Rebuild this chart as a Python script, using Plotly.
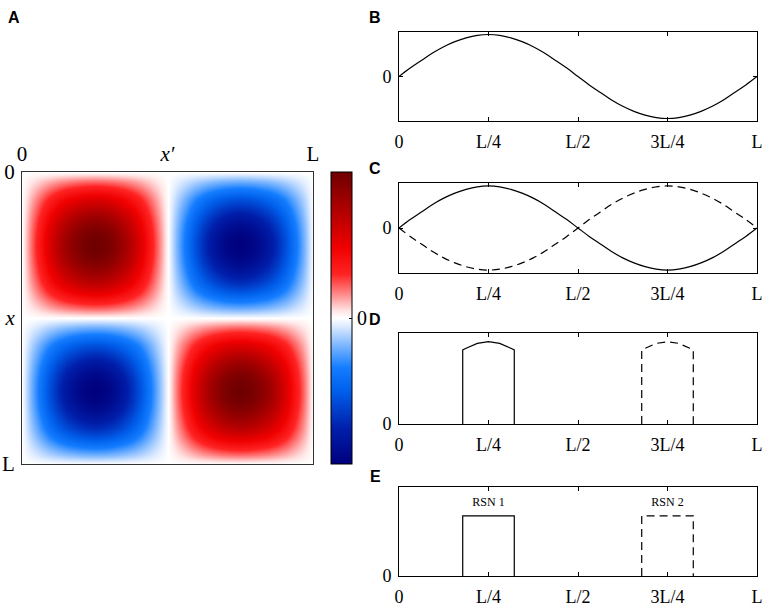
import numpy as np
import plotly.graph_objects as go

W, H = 765, 608

# ---------------- data ----------------
# sample positions along the domain, in units of L
pos = list(np.linspace(0, 1, 33))
# spatial mode 1 (panel B, solid in C)
mode1 = [0.00, 0.20, 0.38, 0.56, 0.71, 0.83, 0.92, 0.98, 1.00, 0.98, 0.92, 0.83,
         0.71, 0.56, 0.38, 0.20, 0.00, -0.20, -0.38, -0.56, -0.71, -0.83, -0.92,
         -0.98, -1.00, -0.98, -0.92, -0.83, -0.71, -0.56, -0.38, -0.20, 0.00]
# spatial mode 2 (dashed in C)
mode2 = [0.00, -0.20, -0.38, -0.56, -0.71, -0.83, -0.92, -0.98, -1.00, -0.98, -0.92,
         -0.83, -0.71, -0.56, -0.38, -0.20, 0.00, 0.20, 0.38, 0.56, 0.71, 0.83, 0.92,
         0.98, 1.00, 0.98, 0.92, 0.83, 0.71, 0.56, 0.38, 0.20, 0.00]

# panel D: thresholded modes
d1_x = [0.178, 0.178, 0.1875, 0.21875, 0.25, 0.28125, 0.3125, 0.322, 0.322]
d1_y = [0.00, 0.90, 0.92, 0.98, 1.00, 0.98, 0.92, 0.90, 0.00]
d2_x = [0.678, 0.678, 0.6875, 0.71875, 0.75, 0.78125, 0.8125, 0.822, 0.822]
d2_y = [0.00, 0.90, 0.92, 0.98, 1.00, 0.98, 0.92, 0.90, 0.00]

# panel E: binary RSNs
e1_x = [0.178, 0.178, 0.322, 0.322]
e1_y = [0, 1, 1, 0]
e2_x = [0.678, 0.678, 0.822, 0.822]
e2_y = [0, 1, 1, 0]
rsn_labels = ["RSN 1", "RSN 2"]
rsn_pos = [0.25, 0.75]

tick_vals = [0, 0.25, 0.5, 0.75, 1]
tick_text = ["0", "L/4", "L/2", "3L/4", "L"]

# covariance matrix (panel A) from mode 1
z = np.outer(mode1, mode1)

# ---------------- figure ----------------
SERIF = "Liberation Serif"
fig = go.Figure()

colorscale = [
    [0.00, "rgb(0,0,125)"],
    [0.12, "rgb(0,30,170)"],
    [0.25, "rgb(0,95,235)"],
    [0.33, "rgb(20,125,255)"],
    [0.41, "rgb(130,185,255)"],
    [0.475, "rgb(225,237,255)"],
    [0.50, "rgb(255,255,255)"],
    [0.525, "rgb(255,228,228)"],
    [0.58, "rgb(255,140,140)"],
    [0.65, "rgb(255,35,35)"],
    [0.74, "rgb(240,0,0)"],
    [0.88, "rgb(170,0,0)"],
    [1.00, "rgb(110,0,0)"],
]

fig.add_trace(go.Heatmap(
    x=pos, y=pos, z=z, zmin=-1, zmax=1, zsmooth="best",
    colorscale=colorscale, xaxis="x", yaxis="y", hoverinfo="skip",
    colorbar=dict(
        x=331 / W, xanchor="left", y=1 - 318 / H, yanchor="middle",
        len=292 / H, lenmode="fraction", thickness=21, thicknessmode="pixels",
        outlinewidth=1, outlinecolor="black", xpad=0, ypad=0,
        tickvals=[0], ticktext=["0"], ticks="inside", ticklen=3,
        tickcolor="black", tickfont=dict(family=SERIF, size=20, color="black"),
    ),
))

line = dict(color="black", width=1.2)
dash = dict(color="black", width=1.2, dash="8px,5px")

# B
fig.add_trace(go.Scatter(x=pos, y=mode1, mode="lines", line=dict(line, shape="spline"),
                         xaxis="x2", yaxis="y2", showlegend=False))
# C
fig.add_trace(go.Scatter(x=pos, y=mode1, mode="lines", line=dict(line, shape="spline"),
                         xaxis="x3", yaxis="y3", showlegend=False))
fig.add_trace(go.Scatter(x=pos, y=mode2, mode="lines", line=dict(dash, shape="spline"),
                         xaxis="x3", yaxis="y3", showlegend=False))
# D
fig.add_trace(go.Scatter(x=d1_x, y=d1_y, mode="lines", line=line,
                         xaxis="x4", yaxis="y4", showlegend=False))
fig.add_trace(go.Scatter(x=d2_x, y=d2_y, mode="lines", line=dash,
                         xaxis="x4", yaxis="y4", showlegend=False))
# E
fig.add_trace(go.Scatter(x=e1_x, y=e1_y, mode="lines", line=line,
                         xaxis="x5", yaxis="y5", showlegend=False))
fig.add_trace(go.Scatter(x=e2_x, y=e2_y, mode="lines", line=dash,
                         xaxis="x5", yaxis="y5", showlegend=False))
fig.add_trace(go.Scatter(x=rsn_pos, y=[1.21, 1.21], mode="text", text=rsn_labels,
                         textfont=dict(family=SERIF, size=12, color="black"),
                         xaxis="x5", yaxis="y5", showlegend=False, hoverinfo="skip"))

# ---------------- layout ----------------
def dom_y(top, bottom):
    return [1 - bottom / H, 1 - top / H]

layout = dict(
    width=W, height=H, paper_bgcolor="white", plot_bgcolor="white",
    margin=dict(l=0, r=0, t=0, b=0, autoexpand=False),
    showlegend=False,
)

hm_font = dict(family=SERIF, size=21, color="black")
layout["xaxis"] = dict(
    domain=[22 / W, 313 / W], range=[0, 1], side="top", anchor="y",
    tickvals=[0, 0.5, 1], ticktext=["0", "<i>x′</i>", "L"], ticks="",
    tickfont=hm_font, ticklabelstandoff=2,
    showline=True, mirror=True, linecolor="#333333", linewidth=1,
    showgrid=False, zeroline=False,
)
layout["yaxis"] = dict(
    domain=dom_y(172, 464), range=[1, 0], anchor="x",
    tickvals=[0, 0.5, 1], ticktext=["0", "<i>x</i>", "L"], ticks="",
    tickfont=hm_font, ticklabelstandoff=2,
    showline=True, mirror=True, linecolor="#333333", linewidth=1,
    showgrid=False, zeroline=False,
)

panels = [  # (top, bottom, yrange)
    (32, 121, [-1.06, 1.06]),
    (183, 273, [-1.07, 1.07]),
    (333, 424, [0, 1.106]),
    (487, 576, [0, 1.48]),
]
tf = dict(family=SERIF, size=18, color="black")
for i, (top, bot, yr) in enumerate(panels, start=2):
    layout[f"xaxis{i}"] = dict(
        domain=[399 / W, 757 / W], range=[0, 1], anchor=f"y{i}",
        tickvals=tick_vals, ticktext=tick_text, ticks="inside", ticklen=4,
        tickcolor="black", tickfont=tf, ticklabelstandoff=4,
        showline=True, mirror="ticks", linecolor="black", linewidth=1,
        showgrid=False, zeroline=False,
    )
    layout[f"yaxis{i}"] = dict(
        domain=dom_y(top, bot), range=yr, anchor=f"x{i}",
        tickvals=[0], ticktext=["0"], ticks="inside", ticklen=4,
        tickcolor="black", tickfont=tf, ticklabelstandoff=3,
        showline=True, mirror="ticks", linecolor="black", linewidth=1,
        showgrid=False, zeroline=False,
    )

fig.update_layout(**layout)

letters = [("A", 14, 17), ("B", 375, 18), ("C", 375, 168), ("D", 375, 319), ("E", 375, 476)]
for t, px, py in letters:
    fig.add_annotation(text=f"<b>{t}</b>", x=px / W, y=1 - py / H, xref="paper", yref="paper",
                       showarrow=False, xanchor="center", yanchor="middle",
                       font=dict(family="Liberation Sans", size=16, color="black"))

fig.write_html("out.html", config={"displayModeBar": False},
               post_script="document.body.style.margin='0px';document.body.style.overflow='hidden';")
